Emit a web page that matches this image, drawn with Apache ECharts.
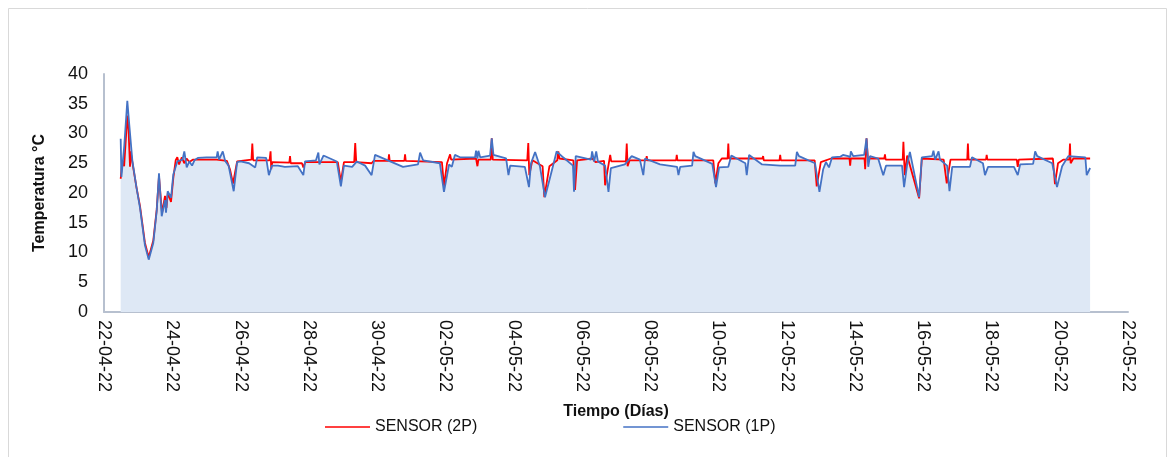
<!DOCTYPE html>
<html lang="es">
<head>
    <meta charset="UTF-8">
    <title>Temperatura</title>
    <script src="https://cdn.jsdelivr.net/npm/echarts@6/dist/echarts.min.js"></script>
</head>
<body style="margin:0">
<div id="chart" style="width:1176px;height:457px"></div>
<script>
    // dias desde 22-04-22 00:00, temperatura en °C
    var sensor1P = [[0.489,29.1],[0.51,22.7],[0.595,28.0],[0.683,35.5],[0.74,31.5],[0.83,25.5],[0.95,21.0],[1.055,17.5],[1.2,11.2],[1.31,8.8],[1.444,11.6],[1.544,17.0],[1.611,23.3],[1.691,16.1],[1.787,18.8],[1.817,16.7],[1.866,20.3],[1.963,19.2],[2.03,23.1],[2.148,25.3],[2.3,25.6],[2.353,27.0],[2.423,24.3],[2.5,25.3],[2.58,24.6],[2.65,25.5],[2.75,25.9],[3.0,26.0],[3.3,26.0],[3.33,27.0],[3.37,25.6],[3.48,27.0],[3.55,25.4],[3.65,24.6],[3.8,20.3],[3.9,25.2],[4.0,25.3],[4.25,25.0],[4.43,24.3],[4.49,26.0],[4.75,25.9],[4.83,23.0],[4.92,24.6],[5.1,24.6],[5.3,24.4],[5.68,24.5],[5.84,23.0],[5.89,25.3],[6.21,25.5],[6.28,26.8],[6.31,24.8],[6.43,26.3],[6.82,25.3],[6.94,21.1],[7.03,24.6],[7.27,24.4],[7.41,25.3],[7.65,24.6],[7.84,23.0],[7.94,26.4],[8.76,24.4],[9.2,24.8],[9.26,26.8],[9.35,25.5],[9.84,25.0],[9.96,20.2],[10.11,24.8],[10.19,24.4],[10.28,26.4],[10.43,26.0],[10.87,26.0],[10.9,27.1],[10.94,25.8],[10.97,27.1],[11.02,26.0],[11.31,26.3],[11.36,29.2],[11.41,26.4],[11.78,25.8],[11.85,23.0],[11.9,24.6],[12.33,24.4],[12.45,21.0],[12.51,25.0],[12.63,26.9],[12.77,24.5],[12.92,19.3],[13.13,24.0],[13.26,27.0],[13.45,26.0],[13.74,24.6],[13.77,20.2],[13.82,26.2],[14.27,25.6],[14.3,27.0],[14.36,25.3],[14.42,27.0],[14.47,25.3],[14.68,24.6],[14.78,20.2],[14.85,24.2],[15.26,24.8],[15.46,26.2],[15.7,25.6],[15.8,23.0],[15.85,25.8],[16.29,24.8],[16.79,24.4],[16.83,23.0],[16.88,24.4],[17.23,24.6],[17.27,26.9],[17.32,26.2],[17.82,24.9],[17.93,21.0],[18.02,24.3],[18.29,24.4],[18.38,26.3],[18.79,25.0],[18.83,23.0],[18.9,26.4],[19.28,24.8],[19.81,24.6],[20.25,24.6],[20.3,26.9],[20.36,26.2],[20.83,25.0],[20.96,20.2],[21.07,24.0],[21.15,25.2],[21.24,24.3],[21.33,26.0],[21.57,26.1],[21.65,26.4],[21.8,26.2],[21.86,26.0],[21.88,27.0],[21.95,26.2],[22.27,26.4],[22.34,29.2],[22.39,24.4],[22.44,26.2],[22.68,25.8],[22.83,23.0],[22.91,24.6],[23.38,24.6],[23.44,21.0],[23.53,24.8],[23.61,26.9],[23.88,19.3],[23.96,26.0],[24.26,26.2],[24.3,27.1],[24.35,25.6],[24.45,27.0],[24.49,25.6],[24.7,24.6],[24.77,20.3],[24.85,24.4],[25.37,24.4],[25.43,26.0],[25.75,25.0],[25.81,23.0],[25.9,24.4],[26.66,24.4],[26.77,23.0],[26.84,24.8],[27.22,24.9],[27.28,27.0],[27.34,26.2],[27.78,25.0],[27.92,21.0],[28.07,24.5],[28.25,26.2],[28.75,26.0],[28.79,23.0],[28.89,24.2]];

    var sensor2P = [[0.489,22.4],[0.536,25.5],[0.59,24.5],[0.683,33.0],[0.72,30.5],[0.762,24.4],[0.78,27.0],[0.83,25.2],[0.95,21.0],[1.055,17.8],[1.2,11.6],[1.31,9.2],[1.444,12.0],[1.544,17.2],[1.611,22.8],[1.7,16.6],[1.787,19.5],[1.83,17.5],[1.87,20.0],[1.963,18.5],[2.03,22.5],[2.1,25.5],[2.148,26.0],[2.2,24.8],[2.28,26.0],[2.35,25.0],[2.42,25.8],[2.5,25.2],[2.6,25.6],[3.3,25.6],[3.6,25.4],[3.69,24.0],[3.78,21.6],[3.9,25.3],[3.95,25.6],[4.32,25.6],[4.345,28.3],[4.37,25.5],[4.85,25.5],[4.88,27.0],[4.9,24.0],[4.93,25.2],[5.43,25.1],[5.45,26.2],[5.47,25.0],[5.8,25.0],[5.84,24.3],[5.9,25.2],[6.85,25.2],[6.94,21.9],[7.03,25.2],[7.33,25.2],[7.36,28.4],[7.39,25.2],[7.84,25.0],[7.9,25.4],[8.33,25.4],[8.35,26.5],[8.37,25.4],[8.8,25.4],[8.82,26.5],[8.84,25.4],[9.9,25.2],[9.96,21.2],[10.05,25.0],[10.14,26.5],[10.17,25.6],[10.9,25.8],[10.94,24.5],[10.97,25.6],[11.33,25.6],[11.36,29.2],[11.39,25.6],[12.4,25.5],[12.43,28.4],[12.46,23.0],[12.55,25.5],[12.85,24.5],[12.9,19.3],[13.05,24.5],[13.28,25.5],[13.31,27.0],[13.34,25.8],[13.75,25.5],[13.8,20.5],[13.86,25.5],[14.3,25.8],[14.4,25.2],[14.65,25.4],[14.68,21.3],[14.83,26.4],[14.86,25.3],[15.29,25.3],[15.315,28.3],[15.34,24.5],[15.4,25.5],[15.88,25.5],[15.9,26.2],[15.92,25.5],[16.76,25.5],[16.78,26.4],[16.8,25.5],[17.85,25.5],[17.91,21.6],[18.0,25.0],[18.1,25.8],[18.27,25.8],[18.29,28.3],[18.31,25.8],[19.29,25.8],[19.31,26.2],[19.33,25.5],[19.79,25.5],[19.81,26.4],[19.83,25.5],[20.82,25.5],[20.88,21.1],[21.0,25.2],[21.3,25.8],[21.84,25.8],[21.86,24.6],[21.88,25.8],[22.28,25.8],[22.3,24.0],[22.34,29.2],[22.38,25.8],[22.86,25.8],[22.88,26.5],[22.9,25.6],[23.4,25.6],[23.42,28.6],[23.46,23.0],[23.53,26.3],[23.88,19.1],[23.96,25.8],[24.6,25.6],[24.69,21.6],[24.8,25.6],[25.29,25.6],[25.31,28.3],[25.33,25.6],[25.84,25.6],[25.86,26.4],[25.88,25.6],[26.74,25.6],[26.77,24.4],[26.8,25.6],[27.8,25.8],[27.86,21.5],[27.95,25.0],[28.1,25.6],[28.28,25.6],[28.3,28.3],[28.32,25.0],[28.4,25.8],[28.89,25.8]];

    var seriesNames = ['SENSOR (2P)', 'SENSOR (1P)'];
    var startDate = Date.UTC(2022, 3, 22);

    function pad(n) {
        return n < 10 ? '0' + n : '' + n;
    }
    function dayLabel(v) {
        var d = new Date(startDate + v * 86400000);
        return pad(d.getUTCDate()) + '-' + pad(d.getUTCMonth() + 1) + '-' + pad(d.getUTCFullYear() % 100);
    }

    var font = 'Liberation Sans, Arial, sans-serif';
    var axisColor = '#b7c0cf';

    var myChart = echarts.init(document.getElementById('chart'));

    var option = {
        backgroundColor: '#fff',
        animation: false,
        graphic: [{
            type: 'rect',
            shape: {x: 8.5, y: 8.5, width: 1158, height: 470},
            style: {fill: 'none', stroke: '#d9d9d9', lineWidth: 1},
            silent: true
        }],
        grid: {left: 104, right: 48, top: 74, bottom: 145},
        legend: {
            data: seriesNames,
            left: 320,
            top: 414,
            icon: 'rect',
            itemWidth: 45,
            itemHeight: 1.5,
            itemGap: 146,
            textStyle: {fontFamily: font, fontSize: 16, color: '#111'}
        },
        xAxis: {
            type: 'value',
            min: 0,
            max: 30,
            interval: 2,
            name: 'Tiempo (Días)',
            nameLocation: 'middle',
            nameGap: 92,
            nameTextStyle: {fontFamily: font, fontSize: 16, fontWeight: 'bold', color: '#111'},
            axisLine: {show: true, lineStyle: {color: axisColor, width: 2}},
            axisTick: {show: false},
            splitLine: {show: false},
            axisLabel: {
                rotate: -90,
                margin: 8,
                fontFamily: font,
                fontSize: 18,
                color: '#111',
                formatter: dayLabel
            }
        },
        yAxis: {
            type: 'value',
            min: 0,
            max: 40,
            interval: 5,
            name: 'Temperatura °C',
            nameLocation: 'middle',
            nameGap: 56,
            nameTextStyle: {fontFamily: font, fontSize: 16, fontWeight: 'bold', color: '#111'},
            axisLine: {show: true, lineStyle: {color: axisColor, width: 2}},
            axisTick: {show: false},
            splitLine: {show: false},
            axisLabel: {margin: 16, fontFamily: font, fontSize: 18, color: '#111'}
        },
        series: [
            {
                name: 'relleno',
                type: 'line',
                data: sensor1P,
                showSymbol: false,
                lineStyle: {width: 0},
                areaStyle: {color: '#dee8f5', opacity: 1},
                z: 1,
                silent: true
            },
            {
                name: seriesNames[0],
                type: 'line',
                data: sensor2P,
                showSymbol: false,
                lineStyle: {color: '#ff0000', width: 1.8},
                itemStyle: {color: '#ff0000'},
                z: 2
            },
            {
                name: seriesNames[1],
                type: 'line',
                data: sensor1P,
                showSymbol: false,
                lineStyle: {color: '#4472c4', width: 1.8},
                itemStyle: {color: '#4472c4'},
                z: 3
            }
        ]
    };

    myChart.setOption(option);
</script>
</body>
</html>
